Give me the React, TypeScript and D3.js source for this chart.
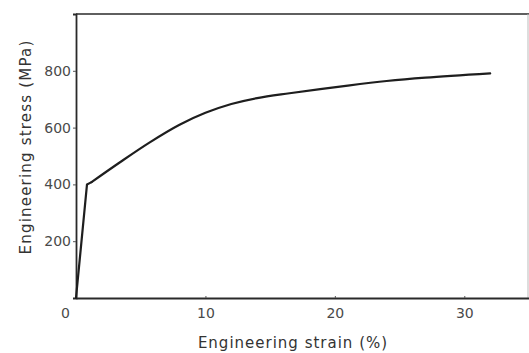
import React, { useEffect, useRef } from 'react';
import * as d3 from 'd3';

// engineering stress-strain curve
const elasticStrain = [0, 0.85, 1.2];
const elasticStress = [0, 400, 408];
const plasticStrain = [1.2, 3.4, 5.7, 8, 10, 12, 14, 16.5, 21, 24, 27, 32];
const plasticStress = [408, 478, 548, 610, 652, 683, 704, 721, 748, 764, 776, 791];

const xTicks = [0, 10, 20, 30];
const yTicks = [200, 400, 600, 800];

const W = 529;
const H = 353;

const App: React.FC = () => {
  const svgRef = useRef<SVGSVGElement>(null);

  useEffect(() => {
    const svg = d3.select(svgRef.current);
    svg.selectAll('*').remove();

    const margin = { top: 14, right: 0, bottom: 55, left: 76 };
    const x = d3.scaleLinear().domain([0, 35]).range([margin.left, W - margin.right]);
    const y = d3.scaleLinear().domain([0, 1000]).range([H - margin.bottom, margin.top]);

    const font = '"DejaVu Sans", Verdana, sans-serif';
    const ink = '#2a2a2a';

    // frame
    svg.append('line')
      .attr('x1', x(0)).attr('x2', W).attr('y1', y(1000)).attr('y2', y(1000))
      .attr('stroke', ink).attr('stroke-width', 1.6);
    svg.append('line')
      .attr('x1', W - 1).attr('x2', W - 1).attr('y1', y(1000)).attr('y2', y(0))
      .attr('stroke', '#bbb').attr('stroke-width', 1);

    // y axis
    const yAxis = svg.append('g')
      .attr('transform', `translate(${x(0)},0)`)
      .call(d3.axisLeft(y).tickValues(yTicks).tickSize(3).tickPadding(2).tickFormat(d3.format('d')));
    yAxis.select('.domain').attr('stroke', ink).attr('stroke-width', 1.8);
    yAxis.selectAll('.tick line').attr('stroke', '#555');
    yAxis.selectAll('.tick text')
      .attr('fill', '#4a4a4a')
      .style('font-family', font)
      .style('font-size', '14px');

    // x axis
    const xAxis = svg.append('g')
      .attr('transform', `translate(0,${y(0)})`)
      .call(d3.axisBottom(x).tickValues(xTicks).tickSize(-2).tickPadding(10).tickSizeOuter(0).tickFormat(d3.format('d')));
    xAxis.select('.domain').attr('stroke', ink).attr('stroke-width', 1.8);
    xAxis.selectAll('.tick line').attr('stroke', '#555');
    xAxis.selectAll('.tick text')
      .attr('fill', '#4a4a4a')
      .style('font-family', font)
      .style('font-size', '14px');
    // origin label sits left of the corner
    xAxis.selectAll<SVGGElement, number>('.tick')
      .filter(d => d === 0)
      .select('text')
      .attr('dx', -11);

    // axis titles
    svg.append('text')
      .attr('x', 293)
      .attr('y', 348)
      .attr('text-anchor', 'middle')
      .attr('fill', '#333')
      .style('font-family', font)
      .style('font-size', '15px')
      .style('letter-spacing', '1px')
      .text('Engineering  strain (%)');

    svg.append('text')
      .attr('transform', `translate(31,147) rotate(-90)`)
      .attr('text-anchor', 'middle')
      .attr('fill', '#333')
      .style('font-family', font)
      .style('font-size', '15px')
      .style('letter-spacing', '1.2px')
      .text('Engineering  stress (MPa)');

    // curve: straight elastic part, smooth plastic part
    const line = d3.line<[number, number]>()
      .x(d => x(d[0]))
      .y(d => y(d[1]));
    const smooth = d3.line<[number, number]>()
      .x(d => x(d[0]))
      .y(d => y(d[1]))
      .curve(d3.curveCatmullRom.alpha(0.5));

    const elastic: [number, number][] = elasticStrain.map((s, i) => [s, elasticStress[i]]);
    const plastic: [number, number][] = plasticStrain.map((s, i) => [s, plasticStress[i]]);

    [[elastic, line], [plastic, smooth]].forEach(([pts, gen]: any) => {
      svg.append('path')
        .datum(pts)
        .attr('d', gen)
        .attr('fill', 'none')
        .attr('stroke', '#1e1e1e')
        .attr('stroke-width', 2.2)
        .attr('stroke-linejoin', 'round')
        .attr('stroke-linecap', 'round');
    });
  }, []);

  return (
    <svg
      ref={svgRef}
      width={W}
      height={H}
      style={{ position: 'absolute', left: 0, top: 0, background: '#fff' }}
    />
  );
};

export default App;
